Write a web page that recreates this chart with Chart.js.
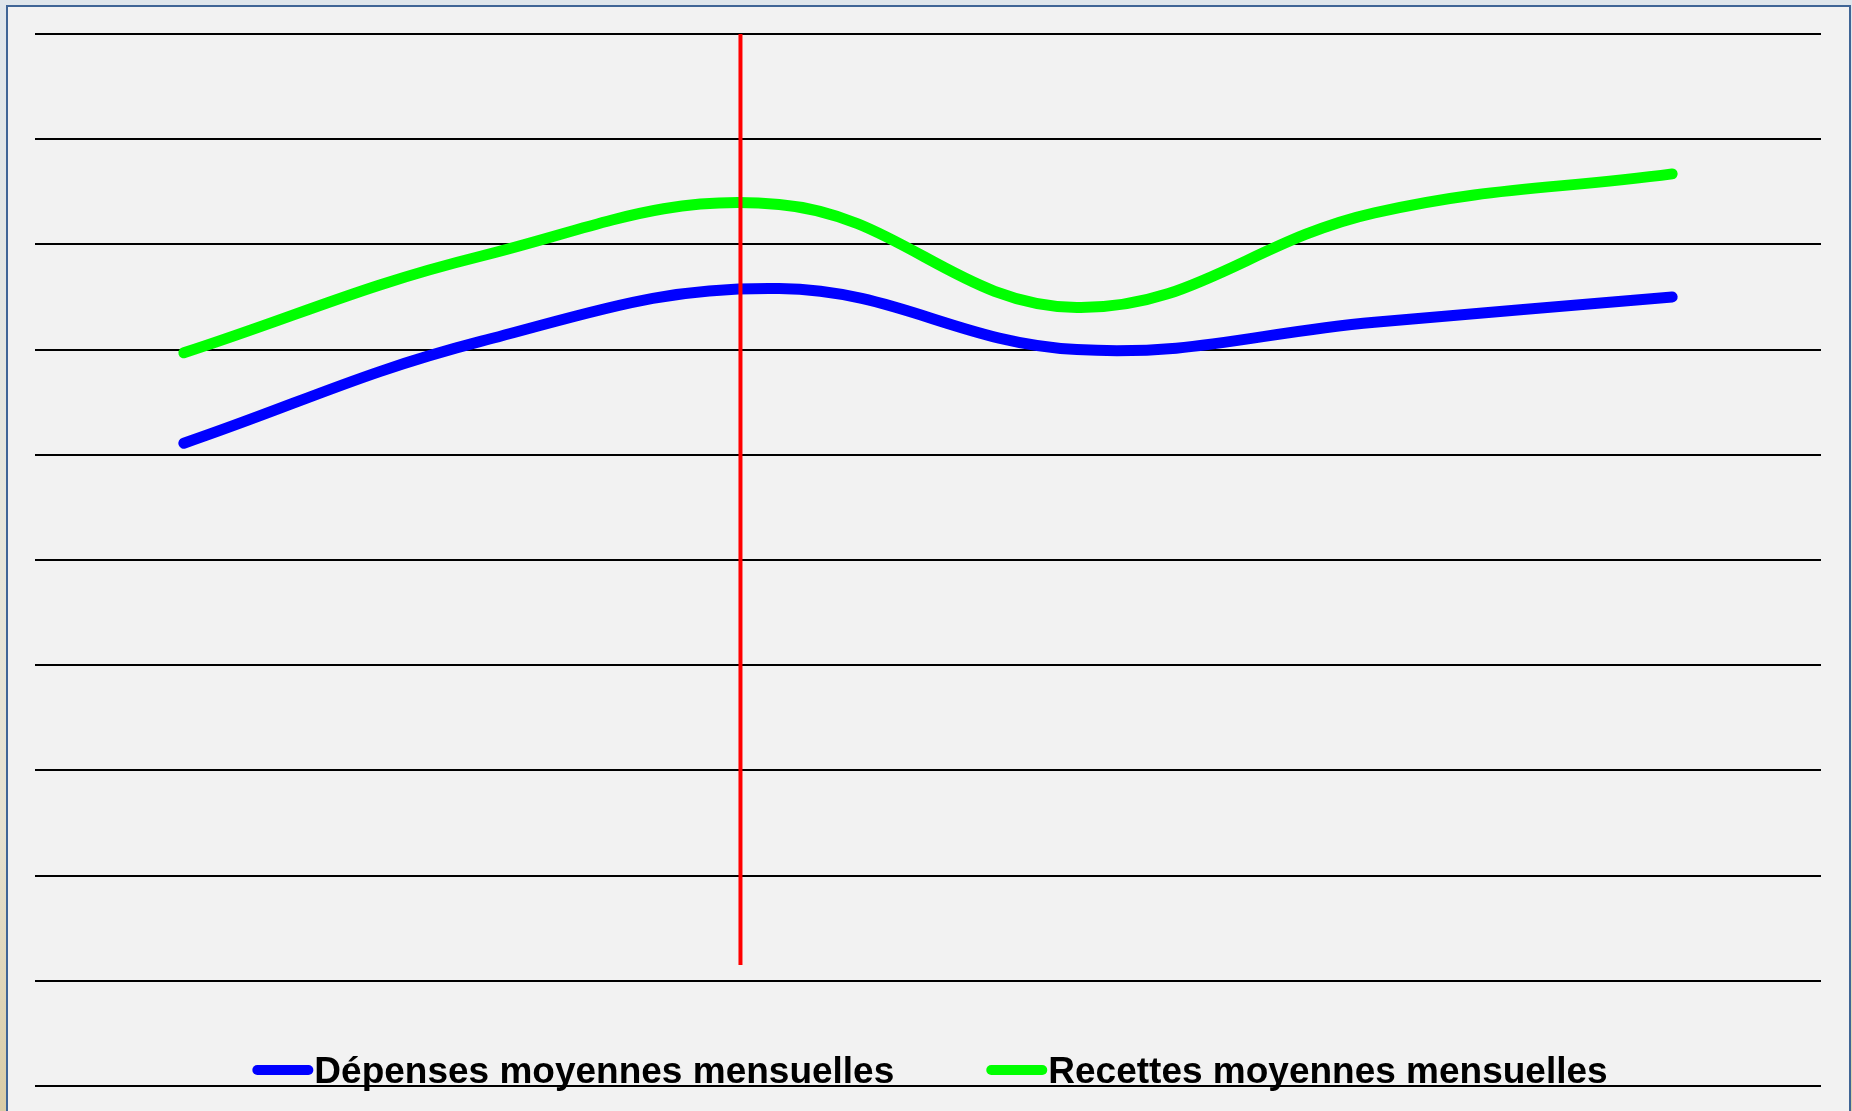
<!DOCTYPE html>
<html>
<head>
<meta charset="utf-8">
<script src="https://cdn.jsdelivr.net/npm/chart.js@4"></script>
<style>
  html, body { margin: 0; padding: 0; width: 1852px; height: 1111px; overflow: hidden; }
  body { background: linear-gradient(to bottom, #dfe6ec 0%, #e6e6dc 45%, #e6e1cf 75%, #d9cca6 100%); position: relative; }
  #panel { position: absolute; left: 6px; top: 5px; width: 1841px; height: 1130px; background: #f2f2f2;
           border: 2.5px solid #3f6596; border-bottom: none; border-radius: 0; }
  #wrap { position: absolute; left: 0; top: 0; width: 1852px; height: 1111px; }
</style>
</head>
<body>
<div id="panel"></div>
<div id="wrap"><canvas id="c" width="1852" height="1111"></canvas></div>
<script>
// ---- data ----
const categories = ['1', '2', '3', '4', '5', '6'];
const depenses = [6.11, 7.08, 7.58, 7.00, 7.26, 7.50];
const recettes = [6.97, 7.89, 8.38, 7.40, 8.30, 8.67];
const seriesLabels = ['Dépenses moyennes mensuelles', 'Recettes moyennes mensuelles'];
const yTicks = [0, 1, 2, 3, 4, 5, 6, 7, 8, 9, 10];
const redLineIndex = 1.87;
const redLineRange = [10, 1.15];

const redLinePlugin = {
  id: 'redLine',
  afterDatasetsDraw(chart) {
    const xs = chart.scales.x, ys = chart.scales.y, ctx = chart.ctx;
    const x = xs.getPixelForValue(redLineIndex);
    ctx.save();
    ctx.strokeStyle = '#ff0000';
    ctx.lineWidth = 4;
    ctx.beginPath();
    ctx.moveTo(x, ys.getPixelForValue(redLineRange[0]));
    ctx.lineTo(x, ys.getPixelForValue(redLineRange[1]));
    ctx.stroke();
    ctx.restore();
  }
};

const legendPlugin = {
  id: 'customLegend',
  afterDraw(chart) {
    const ctx = chart.ctx, ca = chart.chartArea, ys = chart.scales.y;
    const font = 'bold 37px "Liberation Sans", Arial, sans-serif';
    ctx.save();
    ctx.font = font;
    const markerW = 61, textGap = 1, itemGap = 92;
    const items = chart.data.datasets.filter(d => d.label).map(d => ({
      label: d.label, color: d.borderColor, w: markerW + textGap + ctx.measureText(d.label).width
    }));
    const total = items.reduce((s, it) => s + it.w, 0) + itemGap * (items.length - 1);
    let x = (ca.left + ca.right) / 2 - total / 2 + 2;
    const baseline = ys.getPixelForValue(0) - 3;
    const my = baseline - 13;
    items.forEach(it => {
      ctx.strokeStyle = it.color;
      ctx.lineWidth = 10;
      ctx.lineCap = 'round';
      ctx.beginPath();
      ctx.moveTo(x + 5, my);
      ctx.lineTo(x + markerW - 5, my);
      ctx.stroke();
      ctx.fillStyle = '#000000';
      ctx.textBaseline = 'alphabetic';
      ctx.textAlign = 'left';
      ctx.fillText(it.label, x + markerW + textGap, baseline);
      x += it.w + itemGap;
    });
    ctx.restore();
  }
};

new Chart(document.getElementById('c'), {
  type: 'line',
  data: {
    labels: categories,
    datasets: [
      { label: seriesLabels[0], data: depenses, borderColor: '#0000ff', backgroundColor: '#0000ff',
        borderWidth: 11, borderCapStyle: 'round', borderJoinStyle: 'round', pointRadius: 0, tension: 0.4, fill: false },
      { label: seriesLabels[1], data: recettes, borderColor: '#00ff00', backgroundColor: '#00ff00',
        borderWidth: 11, borderCapStyle: 'round', borderJoinStyle: 'round', pointRadius: 0, tension: 0.4, fill: false }
    ]
  },
  options: {
    responsive: false,
    devicePixelRatio: 1,
    animation: false,
    layout: { padding: { left: 35, right: 31, top: 34, bottom: 25 } },
    plugins: { legend: { display: false }, tooltip: { enabled: false }, title: { display: false } },
    scales: {
      x: {
        type: 'category', offset: true,
        grid: { display: false, drawTicks: false },
        border: { display: false },
        ticks: { display: false }
      },
      y: {
        min: yTicks[0], max: yTicks[yTicks.length - 1],
        afterBuildTicks(scale) { scale.ticks = yTicks.map(v => ({ value: v })); },
        grid: { color: '#000000', lineWidth: 2, drawTicks: false },
        border: { display: false },
        ticks: { display: false }
      }
    }
  },
  plugins: [redLinePlugin, legendPlugin]
});
</script>
</body>
</html>
